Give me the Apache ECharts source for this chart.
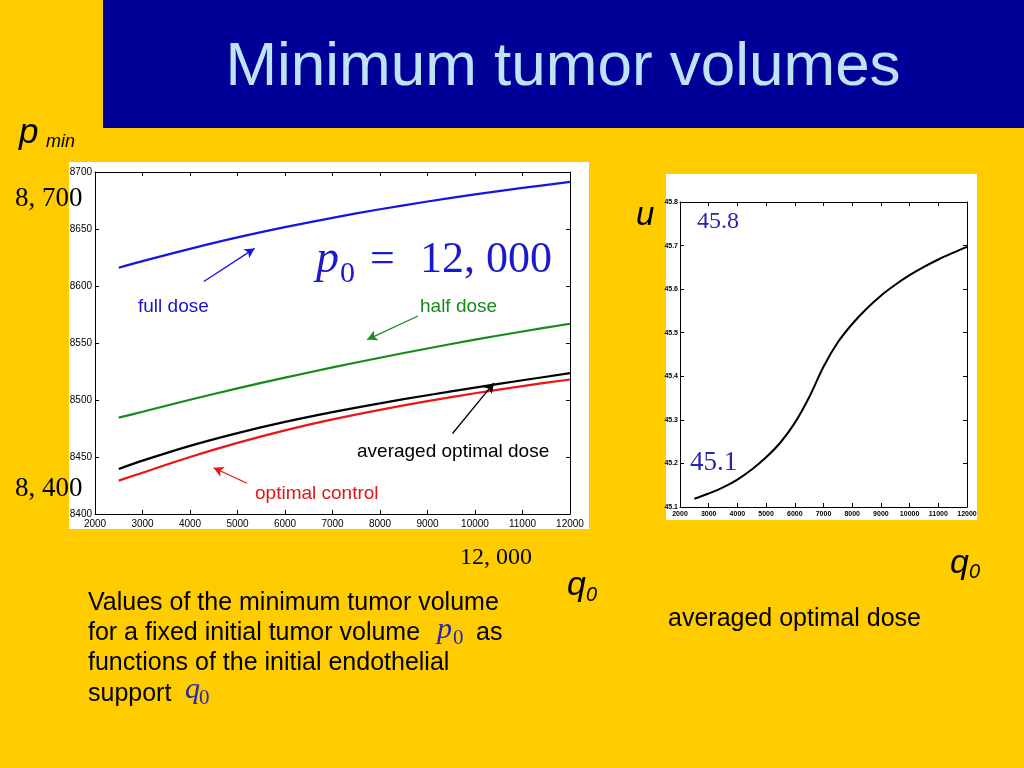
<!DOCTYPE html>
<html>
<head>
<meta charset="utf-8">
<script src="https://cdn.jsdelivr.net/npm/echarts@6/dist/echarts.min.js"></script>
<style>html,body{margin:0;padding:0;background:#FFCC00;}#c{width:1024px;height:768px;}</style>
</head>
<body>
<div id="c"></div>
<script>
// ---- data (left chart: minimum tumor volume p_min vs q0) ----
const q0 = [2500, 3000, 4000, 5000, 6000, 7000, 8000, 9000, 10000, 11000, 12000];
const fullDose = [8616, 8621.8, 8632.6, 8642.6, 8651.6, 8659.8, 8667.3, 8674.1, 8680.3, 8686, 8691.3];
const halfDose = [8484.5, 8489.7, 8500.2, 8510.2, 8519.6, 8528.6, 8537.1, 8545.2, 8552.9, 8560.1, 8566.9];
const averagedOptimal = [8439.5, 8446.8, 8459.8, 8471, 8480.8, 8489.4, 8497.1, 8504.2, 8510.9, 8517.3, 8523.5];
const optimalControl = [8429.3, 8436.2, 8450, 8462.4, 8473.4, 8483, 8491.4, 8499, 8505.9, 8512.2, 8518];
// ---- data (right chart: averaged optimal dose u vs q0) ----
const q0u = [2500, 3000, 3500, 4000, 4500, 5000, 5500, 6000, 6500, 7000, 7500, 8000, 8500, 9000, 9500, 10000, 10500, 11000, 11500, 12000];
const uDose = [45.119, 45.131, 45.145, 45.163, 45.186, 45.214, 45.248, 45.293, 45.352, 45.422, 45.478, 45.52, 45.555, 45.585, 45.61, 45.632, 45.651, 45.668, 45.683, 45.697];
// ---- axis ticks ----
const leftX = {min: 2000, max: 12000, interval: 1000};
const leftY = {min: 8400, max: 8700, interval: 50};
const rightX = {min: 2000, max: 12000, interval: 1000};
const rightY = {min: 45.1, max: 45.8, interval: 0.1};
// ---- arrow annotations (data coordinates) ----
const arrowFull = [[4291, 8604], [5360, 8633]];
const arrowHalf = [[8800, 8573.7], [7731, 8553]];
const arrowAvg = [[9527, 8470.6], [10400, 8515]];
const arrowOpt = [[5200, 8427], [4495, 8440.6]];

const pairs = (xs, ys) => xs.map((x, i) => [x, ys[i]]);

function xAx(grid, r, pos, showLabel, fs, margin) {
  return {
    type: 'value', gridIndex: grid, position: pos, min: r.min, max: r.max, interval: r.interval,
    axisLine: {show: true, onZero: false, lineStyle: {color: '#000', width: 1}},
    axisTick: {show: true, inside: true, length: 4, lineStyle: {color: '#000'}},
    splitLine: {show: false},
    axisLabel: {show: showLabel, fontSize: fs, margin: margin, color: '#000', fontFamily: 'Liberation Sans', fontWeight: fs < 8 ? 'bold' : 'normal', formatter: v => String(v)}
  };
}
function yAx(grid, r, pos, showLabel, fs, margin, dec) {
  return {
    type: 'value', gridIndex: grid, position: pos, min: r.min, max: r.max, interval: r.interval,
    axisLine: {show: true, onZero: false, lineStyle: {color: '#000', width: 1}},
    axisTick: {show: true, inside: true, length: 4, lineStyle: {color: '#000'}},
    splitLine: {show: false},
    axisLabel: {show: showLabel, fontSize: fs, margin: margin, color: '#000', fontFamily: 'Liberation Sans', fontWeight: fs < 8 ? 'bold' : 'normal', formatter: v => dec ? v.toFixed(dec) : String(Math.round(v))}
  };
}
function arrow(a, color) {
  return {
    silent: true, animation: false, symbol: ['none', 'arrow'], symbolSize: [8, 10],
    label: {show: false}, lineStyle: {color: color, width: 1.3, type: 'solid'},
    data: [[{coord: a[0]}, {coord: a[1]}]]
  };
}
function txt(text, x, y, font, fill, align) {
  return {type: 'text', z: 100, style: {text: text, x: x, y: y, font: font, fill: fill, align: align || 'left', verticalAlign: 'middle', textAlign: align || 'left', textVerticalAlign: 'middle'}};
}
const SANS = '"Liberation Sans", Arial, sans-serif';
const SERIF = '"Liberation Serif", "DejaVu Serif", serif';
const TXBLUE = '#2626b0';
const lineSeries = (name, xs, ys, color, w, ax, ml) => ({
  type: 'line', name: name, xAxisIndex: ax, yAxisIndex: ax, data: pairs(xs, ys),
  smooth: 0.35, showSymbol: false, lineStyle: {color: color, width: w},
  markLine: ml
});

const chart = echarts.init(document.getElementById('c'), null, {renderer: 'canvas'});
chart.setOption({
  backgroundColor: '#FFCC00',
  animation: false,
  grid: [
    {left: 95, top: 172, width: 475, height: 342},
    {left: 680, top: 202, width: 287, height: 305}
  ],
  xAxis: [
    xAx(0, leftX, 'bottom', true, 10, 5),
    xAx(0, leftX, 'top', false, 10, 5),
    xAx(1, rightX, 'bottom', true, 7, 4),
    xAx(1, rightX, 'top', false, 7, 4)
  ],
  yAxis: [
    yAx(0, leftY, 'left', true, 10, 3, 0),
    yAx(0, leftY, 'right', false, 10, 3, 0),
    yAx(1, rightY, 'left', true, 7, 2, 1),
    yAx(1, rightY, 'right', false, 7, 2, 1)
  ],
  series: [
    lineSeries('full dose', q0, fullDose, '#1414e6', 2.2, 0, arrow(arrowFull, '#1414e6')),
    lineSeries('half dose', q0, halfDose, '#178a17', 2.2, 0, arrow(arrowHalf, '#178a17')),
    lineSeries('averaged optimal dose', q0, averagedOptimal, '#000000', 2.2, 0, arrow(arrowAvg, '#000000')),
    lineSeries('optimal control', q0, optimalControl, '#ee1414', 2.2, 0, arrow(arrowOpt, '#ee1414')),
    lineSeries('u', q0u, uDose, '#000000', 2, 2, undefined)
  ],
  graphic: [
    {type: 'rect', z: -10, shape: {x: 103, y: 0, width: 921, height: 128}, style: {fill: '#000099'}},
    {type: 'rect', z: -10, shape: {x: 69, y: 162, width: 520, height: 367}, style: {fill: '#ffffff'}},
    {type: 'rect', z: -10, shape: {x: 666, y: 174, width: 311, height: 346}, style: {fill: '#ffffff'}},
    txt('Minimum tumor volumes', 563, 68, '62px ' + SANS, '#BDE3F5', 'center'),
    // p_min
    txt('p', 19, 133, 'italic 35px ' + SANS, '#000'),
    txt('min', 46, 142, 'italic 18px ' + SANS, '#000'),
    txt('8, 700', 15, 199, '27px ' + SERIF, '#000'),
    txt('8, 400', 15, 489, '27px ' + SERIF, '#000'),
    txt('12, 000', 460, 558, '24px ' + SERIF, '#000'),
    txt('q', 567, 586, 'italic 34px ' + SANS, '#000'),
    txt('0', 586, 595, 'italic 20px ' + SANS, '#000'),
    // big p0 = 12,000
    txt('p', 316, 260, 'italic 46px ' + SERIF, '#1a1acc'),
    txt('0', 340, 274, '30px ' + SERIF, '#1a1acc'),
    txt('=', 370, 260, '44px ' + SERIF, '#1a1acc'),
    txt('12, 000', 420, 260, '44px ' + SERIF, '#1a1acc'),
    // curve labels
    txt('full dose', 138, 307, '19px ' + SANS, '#1414d0'),
    txt('half dose', 420, 307, '19px ' + SANS, '#178a17'),
    txt('averaged optimal dose', 357, 452, '19px ' + SANS, '#000'),
    txt('optimal control', 255, 494, '19px ' + SANS, '#e41414'),
    // caption
    txt('Values of the minimum tumor volume', 88, 603, '25px ' + SANS, '#000'),
    txt('for a fixed initial tumor volume', 88, 633, '25px ' + SANS, '#000'),
    txt('p', 437, 630, 'italic 30px ' + SERIF, TXBLUE),
    txt('0', 453, 638, '21px ' + SERIF, TXBLUE),
    txt('as', 476, 633, '25px ' + SANS, '#000'),
    txt('functions of the initial endothelial', 88, 663, '25px ' + SANS, '#000'),
    txt('support', 88, 694, '25px ' + SANS, '#000'),
    txt('q', 185, 690, 'italic 30px ' + SERIF, TXBLUE),
    txt('0', 199, 698, '21px ' + SERIF, TXBLUE),
    // right chart
    txt('u', 636, 216, 'italic 33px ' + SANS, '#000'),
    txt('45.8', 697, 222, '24px ' + SERIF, TXBLUE),
    txt('45.1', 690, 463, '27px ' + SERIF, TXBLUE),
    txt('q', 950, 564, 'italic 34px ' + SANS, '#000'),
    txt('0', 969, 572, 'italic 20px ' + SANS, '#000'),
    txt('averaged optimal dose', 668, 619, '25px ' + SANS, '#000')
  ]
});
</script>
</body>
</html>
